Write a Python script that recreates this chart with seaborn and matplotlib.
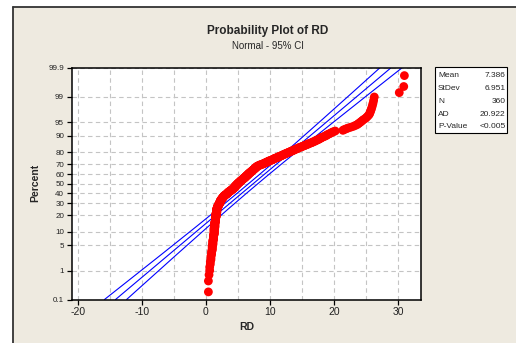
import numpy as np
import pandas as pd
import matplotlib
matplotlib.use('Agg')
import matplotlib.pyplot as plt
import seaborn as sns
from statistics import NormalDist
from matplotlib.patches import Rectangle
from matplotlib.lines import Line2D

# RD values (n = 360)
rd = [
    0.4, 0.4, 0.5, 0.6, 0.6, 0.7, 0.7, 0.8, 0.8, 0.8, 0.9, 0.9, 0.9, 1.0, 1.0, 1.0, 1.0, 1.0, 1.1, 1.1,
    1.1, 1.1, 1.1, 1.1, 1.2, 1.2, 1.2, 1.2, 1.2, 1.2, 1.2, 1.3, 1.3, 1.3, 1.3, 1.3, 1.3, 1.3, 1.3, 1.3,
    1.3, 1.3, 1.3, 1.4, 1.4, 1.4, 1.4, 1.4, 1.4, 1.4, 1.4, 1.4, 1.4, 1.4, 1.4, 1.5, 1.5, 1.5, 1.5, 1.5,
    1.5, 1.5, 1.5, 1.5, 1.5, 1.5, 1.5, 1.6, 1.6, 1.6, 1.6, 1.6, 1.6, 1.6, 1.6, 1.6, 1.6, 1.6, 1.7, 1.7,
    1.7, 1.7, 1.7, 1.7, 1.7, 1.7, 1.7, 1.7, 1.7, 1.7, 1.7, 1.8, 1.8, 1.8, 1.8, 1.8, 1.8, 1.9, 1.9, 1.9,
    1.9, 2.0, 2.0, 2.0, 2.0, 2.1, 2.1, 2.1, 2.1, 2.2, 2.2, 2.2, 2.2, 2.2, 2.3, 2.3, 2.3, 2.3, 2.3, 2.4,
    2.4, 2.4, 2.5, 2.5, 2.5, 2.6, 2.6, 2.6, 2.7, 2.7, 2.7, 2.8, 2.8, 2.8, 2.9, 2.9, 3.0, 3.0, 3.1, 3.2,
    3.2, 3.3, 3.3, 3.4, 3.4, 3.4, 3.5, 3.5, 3.6, 3.6, 3.7, 3.7, 3.8, 3.9, 3.9, 4.0, 4.0, 4.1, 4.1, 4.2,
    4.2, 4.3, 4.3, 4.4, 4.4, 4.4, 4.5, 4.5, 4.5, 4.6, 4.6, 4.6, 4.7, 4.7, 4.8, 4.8, 4.8, 4.9, 4.9, 5.0,
    5.0, 5.0, 5.1, 5.1, 5.2, 5.2, 5.3, 5.3, 5.4, 5.4, 5.4, 5.5, 5.5, 5.6, 5.6, 5.7, 5.7, 5.8, 5.8, 5.9,
    5.9, 6.0, 6.0, 6.1, 6.1, 6.2, 6.2, 6.2, 6.3, 6.3, 6.4, 6.4, 6.5, 6.5, 6.6, 6.6, 6.6, 6.7, 6.7, 6.8,
    6.8, 6.9, 6.9, 7.0, 7.0, 7.1, 7.1, 7.2, 7.2, 7.3, 7.3, 7.4, 7.4, 7.5, 7.5, 7.6, 7.6, 7.7, 7.7, 7.8,
    7.8, 7.9, 7.9, 8.0, 8.0, 8.1, 8.2, 8.3, 8.4, 8.5, 8.6, 8.8, 8.9, 9.0, 9.1, 9.2, 9.3, 9.4, 9.5, 9.6,
    9.7, 9.8, 9.9, 10.0, 10.2, 10.3, 10.4, 10.5, 10.6, 10.7, 10.8, 10.9, 11.1, 11.2, 11.3, 11.4, 11.5, 11.7, 11.8, 11.9,
    12.0, 12.1, 12.3, 12.4, 12.5, 12.6, 12.8, 12.9, 13.0, 13.2, 13.3, 13.4, 13.6, 13.7, 13.8, 14.0, 14.1, 14.3, 14.4, 14.5,
    14.7, 14.9, 15.0, 15.2, 15.4, 15.5, 15.7, 15.9, 16.0, 16.2, 16.4, 16.6, 16.7, 16.9, 17.1, 17.2, 17.4, 17.6, 17.7, 17.9,
    18.0, 18.2, 18.4, 18.6, 18.8, 18.9, 19.1, 19.3, 19.5, 19.7, 19.9, 20.2, 21.4, 21.6, 21.9, 22.2, 22.6, 23.0, 23.3, 23.6,
    23.8, 24.0, 24.2, 24.4, 24.6, 24.9, 25.1, 25.3, 25.5, 25.6, 25.7, 25.8, 25.9, 26.0, 26.1, 26.2, 26.3, 30.2, 30.9, 31.0,
]

pct_ticks = [0.1, 1, 5, 10, 20, 30, 40, 50, 60, 70, 80, 90, 95, 99, 99.9]
pct_labels = ['0.1', '1', '5', '10', '20', '30', '40', '50', '60', '70', '80', '90', '95', '99', '99.9']
x_ticks = [-20, -10, 0, 10, 20, 30]

stat_names = ['Mean', 'StDev', 'N', 'AD', 'P-Value']
stat_values = ['7.386', '6.951', '360', '20.922', '<0.005']
mean_rd = 7.386
sd_rd = 6.951

W, H = 516, 343
sns.set_style('white')
plt.rcParams['font.family'] = ['Liberation Sans', 'DejaVu Sans']
plt.rcParams['axes.unicode_minus'] = False

nd = NormalDist()
n = len(rd)
vals = np.sort(rd)
# median rank plotting positions
pos = [(i + 1 - 0.3) / (n + 0.4) for i in range(n)]
df = pd.DataFrame({'RD': vals, 'z': [nd.inv_cdf(p) for p in pos]})

zlo, zhi = nd.inv_cdf(0.001), nd.inv_cdf(0.999)
zz = np.linspace(zlo, zhi, 200)
half = 1.96 * sd_rd * np.sqrt((1 + zz ** 2 / 2) / n)
mid = mean_rd + sd_rd * zz
fit = pd.DataFrame({
    'z': np.concatenate([zz, zz, zz]),
    'RD': np.concatenate([mid - half, mid, mid + half]),
    'band': np.repeat(['lo', 'fit', 'hi'], len(zz)),
})

fig = plt.figure(figsize=(W / 100, H / 100), dpi=100, facecolor='white')

# window background
fig.patches.append(Rectangle((12.7 / W, 0), 1, 1 - 7 / H, transform=fig.transFigure,
                             facecolor='#EEEAE0', edgecolor='none', zorder=-10))
fig.add_artist(Line2D([12.7 / W, 12.7 / W], [0, 1 - 7 / H], color='#333333', lw=1.3))
fig.add_artist(Line2D([12.7 / W, 1], [1 - 7 / H, 1 - 7 / H], color='#333333', lw=1.3))

ax = fig.add_axes([71.7 / W, 1 - 299.5 / H, (421.3 - 71.7) / W, (299.5 - 68) / H])
ax.set_facecolor('white')

sns.lineplot(data=fit, x='RD', y='z', units='band', estimator=None, sort=False,
             color='#0000FF', lw=0.8, ax=ax, zorder=2)
sns.scatterplot(data=df, x='RD', y='z', color='#FF0000', s=40, edgecolor='none',
                linewidth=0, ax=ax, zorder=3)

ax.set_xlim(-20.94, 33.64)
ax.set_ylim(zlo, zhi)
ax.set_xticks(x_ticks)
ax.set_xticks(np.arange(-15, 30, 10), minor=True)
ax.set_yticks([nd.inv_cdf(p / 100) for p in pct_ticks])
ax.set_yticklabels(pct_labels)
ax.grid(True, which='both', color='#C4C4C4', ls=(0, (4, 3)), lw=0.8)
ax.tick_params(axis='both', which='major', direction='out', length=3.5, width=0.9,
               color='black', left=True, bottom=True)
ax.tick_params(axis='both', which='minor', length=0)
ax.tick_params(axis='x', labelsize=7.5, pad=2, labelcolor='#222222')
ax.tick_params(axis='y', labelsize=5.8, pad=2, labelcolor='#222222')
for s in ax.spines.values():
    s.set_color('black')
    s.set_linewidth(1.1)
ax.set_xlabel('')
ax.set_ylabel('')

fig.text(246.5 / W, 1 - 327 / H, 'RD', ha='center', va='center', fontsize=7.5, fontweight='bold')
fig.text(35 / W, 1 - 183 / H, 'Percent', ha='center', va='center', rotation=90,
         fontsize=7.5, fontweight='bold')
fig.text(268 / W, 1 - 31 / H, 'Probability Plot of RD', ha='center', va='center',
         fontsize=8.5, fontweight='bold')
fig.text(268 / W, 1 - 46 / H, 'Normal - 95% CI', ha='center', va='center', fontsize=7)

# stats box
fig.patches.append(Rectangle((435 / W, 1 - 132.7 / H), 72.3 / W, 65.4 / H, transform=fig.transFigure,
                             facecolor='white', edgecolor='black', lw=0.8, zorder=5))
for k, (name, val) in enumerate(zip(stat_names, stat_values)):
    yy = 1 - (75.8 + 12.75 * k) / H
    fig.text(438 / W, yy, name, ha='left', va='center', fontsize=6, zorder=6)
    fig.text(505.5 / W, yy, val, ha='right', va='center', fontsize=6, zorder=6)

fig.savefig('out.png', dpi=100, facecolor=fig.get_facecolor())
